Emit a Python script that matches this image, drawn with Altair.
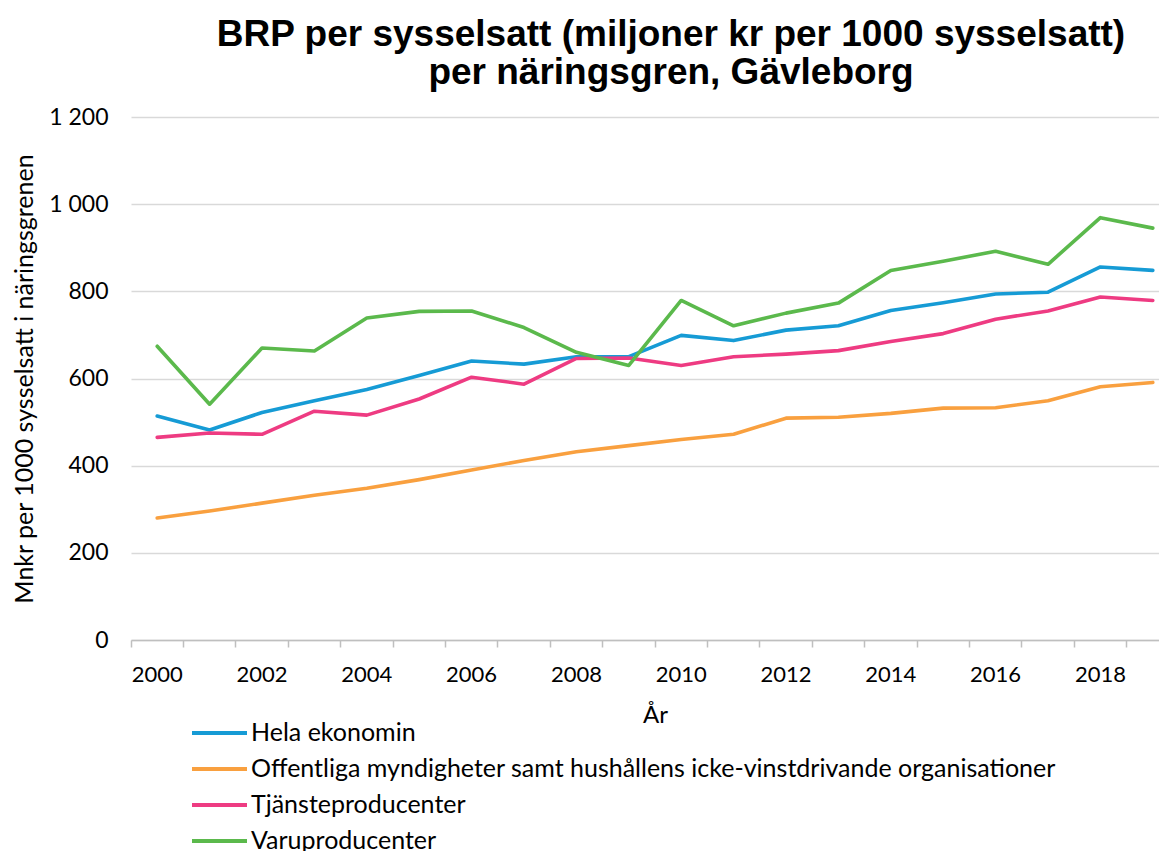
import altair as alt
import pandas as pd

years = [str(y) for y in range(2000, 2020)]
hela = [514, 482, 522, 549, 575, 607, 640, 633, 650, 650, 699, 687, 711, 721, 756, 774, 794, 798, 856, 848]
offentliga = [280, 296, 314, 332, 348, 368, 390, 412, 432, 446, 460, 472, 509, 511, 520, 532, 533, 549, 581, 591]
tjanste = [465, 475, 472, 525, 516, 553, 603, 587, 646, 647, 630, 650, 656, 664, 685, 703, 736, 755, 787, 779]
varu = [674, 541, 670, 663, 739, 754, 755, 717, 660, 630, 779, 721, 750, 773, 848, 869, 892, 862, 969, 945]

series_names = [
    "Hela ekonomin",
    "Offentliga myndigheter samt hushållens icke-vinstdrivande organisationer",
    "Tjänsteproducenter",
    "Varuproducenter",
]
series_colors = ["#169bd5", "#f9a03f", "#ee3b82", "#5bb94c"]
y_ticks = [0, 200, 400, 600, 800, 1000, 1200]

rows = []
for name, vals in zip(series_names, [hela, offentliga, tjanste, varu]):
    for yr, v in zip(years, vals):
        rows.append({"År": yr, "Serie": name, "Värde": v})
df = pd.DataFrame(rows)

FONT = "Lato"

chart = alt.Chart(df).mark_line(strokeWidth=3.6, strokeJoin="round", strokeCap="round").encode(
    x=alt.X(
        "År:O",
        sort=years,
        scale=alt.Scale(type="band", paddingInner=0, paddingOuter=0, range=[0, 1048]),
        axis=alt.Axis(
            title="År",
            bandPosition=0,
            labelAngle=0,
            labelExpr="parseInt(datum.value) % 2 == 0 ? datum.label : ''",
            labelOverlap=False,
            labelFont=FONT,
            labelFontSize=22,
            labelColor="#000000",
            labelPadding=17,
            tickSize=7,
            tickColor="#bfbfbf",
            tickWidth=1.5,
            domainColor="#bfbfbf",
            domainWidth=1.5,
            grid=False,
            titleFont=FONT,
            titleFontSize=24,
            titleFontWeight="normal",
            titleColor="#000000",
            titlePadding=18,
        ),
    ),
    y=alt.Y(
        "Värde:Q",
        scale=alt.Scale(domain=[0, 1200], nice=False),
        axis=alt.Axis(
            title="Mnkr per 1000 sysselsatt i näringsgrenen",
            values=y_ticks,
            labelExpr="replace(format(datum.value, ','), ',', ' ')",
            labelFont=FONT,
            labelFontSize=23,
            labelColor="#000000",
            labelPadding=23,
            ticks=False,
            domain=False,
            gridColor="#d9d9d9",
            gridWidth=1.5,
            titleFont=FONT,
            titleFontSize=25,
            titleFontWeight="normal",
            titleColor="#000000",
            titlePadding=11,
        ),
    ),
    color=alt.Color(
        "Serie:N",
        scale=alt.Scale(domain=series_names, range=series_colors),
        legend=alt.Legend(
            title=None,
            orient="none",
            legendX=59,
            legendY=606,
            direction="vertical",
            symbolType="stroke",
            symbolSize=3025,
            symbolStrokeWidth=4,
            clipHeight=20,
            labelFont=FONT,
            labelFontSize=25,
            labelColor="#000000",
            labelOffset=2,
            labelLimit=1000,
            rowPadding=11,
        ),
    ),
).properties(
    width=1028,
    height=523,
    autosize=alt.AutoSizeParams(type="none"),
    padding={"left": 123, "top": 109, "right": 0, "bottom": 211},
    title=alt.TitleParams(
        text=["BRP per sysselsatt (miljoner kr per 1000 sysselsatt)", "per näringsgren, Gävleborg"],
        font="Liberation Sans",
        fontSize=37,
        fontWeight="bold",
        color="#000000",
        anchor="middle",
        dx=26,
        lineHeight=38,
        offset=14,
    ),
).configure_view(stroke=None)

chart.save("out.html", embed_options={"renderer": "svg", "actions": False})
